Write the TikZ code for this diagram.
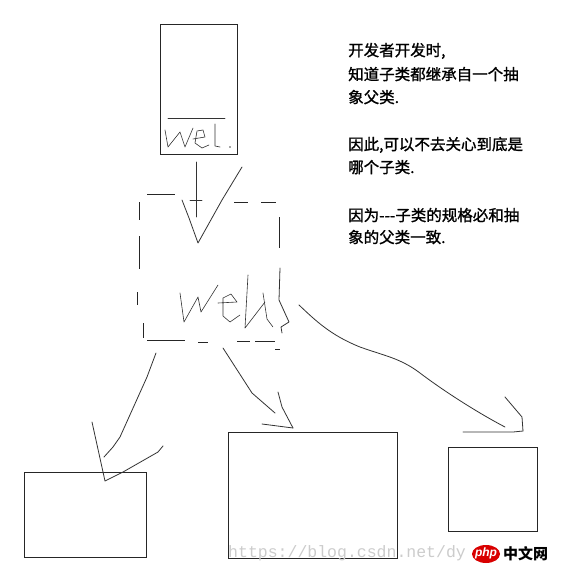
\documentclass[tikz,border=0pt]{standalone}
\usepackage{fontspec}
\newfontfamily\cjk[FakeBold=1.2]{Noto Sans CJK SC}
\newfontfamily\cjklogo{Noto Sans CJK SC}
\newfontfamily\wmfont{Liberation Mono}
\newfontfamily\logofont{Liberation Sans}
\begin{document}
\begin{tikzpicture}[x=1pt,y=-1pt,
  boxline/.style={draw=black!85,line width=0.9pt,inner sep=0pt,anchor=north west},
  sketch/.style={draw=black!80,line width=0.8pt,line join=round,line cap=round},
  dashseg/.style={draw=black!85,line width=0.9pt},
  note/.style={anchor=base west,inner sep=0pt,font=\cjk\fontsize{15.5}{18}\selectfont}]
\useasboundingbox[fill=white] (0,0) rectangle (562,576);

% boxes
\node[boxline,minimum width=77pt,minimum height=130pt] (top) at (160,24) {};
\node[boxline,minimum width=122pt,minimum height=85pt] (c1) at (24,472) {};
\node[boxline,minimum width=169pt,minimum height=126pt] (c2) at (228,432) {};
\node[boxline,minimum width=89pt,minimum height=84pt] (c3) at (448,447) {};

% top box inner line and "wel"
\draw[sketch] (168,118) -- (225,118);
\draw[sketch,line width=0.6pt] (165,130) -- (168,147) -- (180,132) -- (185,147) -- (193,128);
\draw[sketch,line width=0.6pt] (193,139) -- (205,137) -- (203,130) -- (197,131) -- (195,143) -- (202,148) -- (209,145);
\draw[sketch,line width=0.6pt] (215,124) -- (215,146) -- (220,147);
\fill[black!70] (230,147) circle (0.8);

% arrow from top box to dashed box
\draw[sketch] (196,162) -- (196,217);
\draw[sketch] (190,200) -- (202,200);
\draw[sketch] (182,200) -- (189,218) -- (198,243) -- (222,200) -- (242,167);

% dashed box
\draw[dashseg] (147,194) -- (175,194);
\draw[dashseg] (234,202) -- (248,202);
\draw[dashseg] (261,202) -- (276,202);
\draw[dashseg] (139,202) -- (139,220);
\draw[dashseg] (139,236) -- (139,269);
\draw[dashseg] (137,292) -- (137,305);
\draw[dashseg] (143,323) -- (143,338);
\draw[dashseg] (147,340) -- (185,340);
\draw[dashseg] (198,342) -- (208,342);
\draw[dashseg] (237,341) -- (250,341);
\draw[dashseg] (255,341) -- (275,341);
\draw[dashseg] (275,349) -- (280,349);
\draw[dashseg] (279,217) -- (279,248);
\draw[sketch] (280,268) -- (279,300) -- (289,322) -- (281,327) -- (282,333);

% handwritten "welk"
\draw[sketch,line width=0.6pt] (180,293) -- (184,322) -- (198,297) -- (201,312) -- (218,285);
\draw[sketch,line width=0.6pt] (218,303) -- (237,302) -- (231,294) -- (223,298) -- (223,316) -- (230,322) -- (240,315);
\draw[sketch,line width=0.6pt] (248,275) -- (245,328) -- (265,302);
\draw[sketch,line width=0.6pt] (263,293) -- (267,319) -- (273,327);

% connectors to children
\draw[sketch] (156,353) -- (147,377) -- (120,437) -- (113,447) -- (104,457);
\draw[sketch] (92,422) -- (105,481) -- (123,472) -- (158,452) -- (163,446);
\draw[sketch] (223,348) -- (252,393) -- (275,413);
\draw[sketch] (262,424) -- (293,428);
\draw[sketch] (278,392) -- (282,407) -- (293,428);
\draw[sketch] (299,305) .. controls (315,320) and (330,335) .. (360,347) .. controls (385,356) and (400,358) .. (420,373) .. controls (445,392) and (480,414) .. (505,427);
\draw[sketch] (463,432) -- (513,432) -- (523,431);
\draw[sketch] (523,431) -- (522,417) -- (505,397);

% notes
\node[note] (t1) at (348,56) {开发者开发时,};
\node[note] (t2) at (348,80) {知道子类都继承自一个抽};
\node[note] (t3) at (348,103) {象父类.};
\node[note] (t4) at (348,150) {因此,可以不去关心到底是};
\node[note] (t5) at (348,173) {哪个子类.};
\node[note] (t6) at (348,221) {因为---子类的规格必和抽};
\node[note] (t7) at (348,243) {象的父类一致.};

% watermark
\node[anchor=base west,inner sep=0pt,text=black!20,font=\wmfont\fontsize{16.5}{18}\selectfont] (wm) at (228,557) {https://blog.csdn.net/dy};
\fill[red!85!black] (486,554) ellipse (14 and 9);
\node[inner sep=0pt,text=white,font=\logofont\bfseries\itshape\fontsize{12}{12}\selectfont] (php) at (486,553) {php};
\node[anchor=west,inner sep=0pt,font=\cjklogo\bfseries\fontsize{15}{15}\selectfont] (cn) at (503,554) {中文网};
\end{tikzpicture}
\end{document}
